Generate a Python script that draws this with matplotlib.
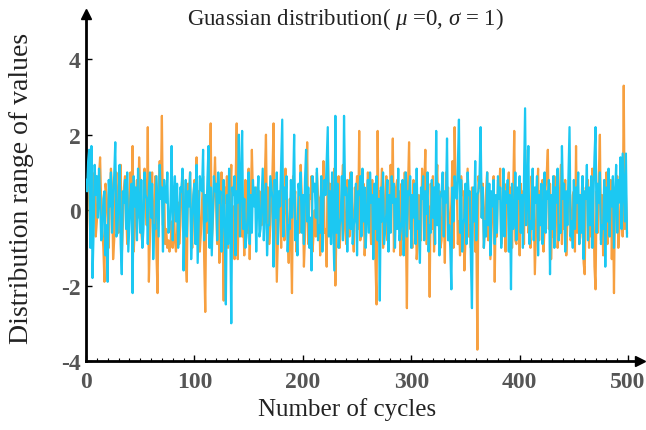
import numpy as np
import matplotlib
matplotlib.use("Agg")
import matplotlib.pyplot as plt
from matplotlib.ticker import MultipleLocator

orange_vals = [
    -1.3, -0.4, 0.6, 1.2, 0.3, -0.9, -0.2, 0.8, 1.0, -0.7,
    -0.3, 0.5, 0.9, 1.4, 0.2, -0.5, -1.0, -1.9, 0.7, 0.4,
    -0.2, -1.0, 0.3, 1.1, 0.6, -1.3, -0.8, 0.4, 1.0, 0.2,
    -0.6, -0.2, 1.2, -1.2, -0.4, 0.6, 0.9, 0.1, -0.9, -0.3,
    0.5, 1.0, 0.2, 1.7, -1.1, -0.5, 0.3, 0.8, -0.2, 1.4,
    0.6, -0.6, -0.9, 0.2, 1.1, 0.4, -0.4, 2.2, -1.9, -0.7,
    0.3, 1.0, -0.8, -0.4, 0.9, -1.2, -2.2, 0.6, 1.3, 0.5,
    2.5, -0.4, 0.8, -0.9, -0.5, -1.0, -0.8, -1.1, -0.9, -0.3,
    -1.0, 0.3, -0.8, -1.1, -0.6, 0.2, -0.9, -0.4, 0.5, 0.9,
    0.4, -0.6, -1.2, -1.9, 0.7, 0.3, 1.0, -0.5, -1.0, 0.3,
    0.8, 0.2, 1.4, -0.7, 0.5, -1.1, -0.6, 0.2, 0.9, -1.3,
    -2.7, 0.4, -0.6, 1.1, 0.5, 2.3, -0.8, -0.3, 0.5, 1.4,
    0.2, -0.9, 0.7, -1.4, -0.3, 1.0, -0.6, -2.4, 0.6, 0.2,
    0.9, -1.0, -0.4, 0.5, 1.2, -0.8, 0.1, -1.3, 0.7, 2.3,
    -1.3, 0.5, 0.4, 1.0, -0.7, -0.2, -1.2, 0.8, 0.0, -0.6,
    1.1, -1.3, 0.3, 1.6, 0.4, 0.5, 0.3, 0.6, 0.4, 0.2,
    0.5, 0.3, -0.4, 0.7, 0.1, 0.9, 2.0, -0.5, 0.6, -0.9,
    -0.4, 0.3, 1.0, 2.3, -0.6, 0.2, -1.9, -0.8, 0.4, 0.5,
    -1.0, 0.7, 0.1, -0.8, 1.1, 0.3, -0.6, -1.4, 0.3, -0.7,
    -2.2, 0.9, 0.2, 0.5, -1.1, -0.8, 0.0, -0.6, 1.2, 0.4,
    0.3, -1.5, -0.7, 0.2, 1.8, -0.9, 0.4, 0.3, 0.9, -1.1,
    -0.6, 0.0, -0.7, 1.0, 0.4, 0.3, -1.2, 0.8, 0.1, 1.3,
    -0.6, -0.5, -1.5, 1.6, 0.3, 0.7, -0.9, -0.2, 0.5, 1.1,
    -2.0, -0.6, 0.2, 0.9, -1.0, -0.4, 0.6, 1.2, 0.3, -0.5,
    -0.9, 0.8, 0.1, -0.7, 1.0, 0.4, -0.3, -1.1, 0.6, 0.2,
    0.9, -0.5, 2.1, -0.8, -0.4, 0.1, 0.7, -1.2, -0.5, 0.3,
    1.0, 0.6, -0.2, -0.9, 0.8, -0.2, 0.4, -1.4, -2.5, 2.1,
    -0.7, 0.5, 0.3, 1.1, -1.0, -0.6, 0.4, 0.9, -0.8, 0.3,
    -0.5, 1.2, 0.2, 1.9, -1.1, -0.4, 0.6, 0.8, -0.3, 0.5,
    -1.2, 0.7, 0.0, -0.8, 1.0, -0.4, -2.6, 0.6, 1.8, -0.5,
    -0.3, -1.0, 0.8, 0.2, 0.5, -1.3, -0.9, 0.4, 0.2, -0.8,
    1.1, 0.3, 0.6, 1.6, -0.9, -0.4, 0.1, -2.3, 0.7, -0.5,
    0.9, -1.1, -0.3, 0.6, 1.2, -0.2, 0.5, -1.0, -0.8, 0.4,
    0.1, -1.4, 1.0, 0.3, 0.6, -0.8, -0.4, 0.2, 1.3, -1.0,
    2.2, 0.5, 0.7, -0.9, -0.3, -1.2, 0.9, 0.4, 0.5, -1.6,
    -0.8, 0.2, 1.1, -0.7, -0.4, -1.0, 0.6, 0.3, 0.2, -1.1,
    -0.5, -3.7, 0.9, 0.6, 1.2, -0.2, 0.7, -1.0, -0.3, 0.5,
    1.0, -0.8, 0.4, -1.3, -0.6, 0.1, 0.9, -1.9, 0.2, -0.7,
    0.8, 0.4, 1.1, -0.9, -0.5, 0.2, 0.7, -1.1, 0.3, 0.6,
    1.0, -0.3, 0.6, -1.0, 0.4, 2.1, -0.8, -0.9, 0.5, 0.2,
    -1.2, 0.7, -0.1, 0.5, -0.9, 1.6, 0.3, 0.8, -0.6, -0.4,
    -1.0, 0.9, 0.2, 0.3, -1.7, -0.6, 0.4, 1.1, -0.8, 0.5,
    -0.3, 0.8, -1.1, -0.4, 0.6, 1.0, 1.6, -0.5, 0.7, -1.3,
    -0.2, -0.7, 0.9, 0.1, 0.5, -1.0, -0.6, 0.3, 1.2, -0.9,
    0.4, -0.5, 0.8, -1.2, -0.3, 0.2, 1.0, -0.8, -0.6, 0.4,
    0.5, -1.1, 1.7, -0.6, 0.2, -0.9, -0.7, 0.3, 0.9, -1.4,
    -1.7, 0.6, 0.4, 0.8, -1.0, 0.3, -0.7, 1.1, 0.2, -1.5,
    -2.1, 0.5, -0.6, 0.9, 2.0, -0.8, 0.4, -1.2, -0.7, 0.3,
    1.0, -0.9, 0.3, -0.5, 0.8, -1.3, 0.2, -2.2, 0.6, 0.4,
    0.9, -1.0, -0.5, 0.2, 1.2, -0.7, 3.3, -0.5, 0.4, -0.6,
]

blue_vals = [
    0.8, 0.5, 1.3, 1.6, -1.0, 1.7, -1.8, -0.6, 1.2, 0.4,
    0.9, -0.2, 1.1, 0.3, -0.8, -0.7, 0.3, 0.5, -1.2, -0.4,
    -1.9, 0.8, 0.1, 1.0, -0.6, 0.3, 0.9, 1.8, -0.7, -0.6,
    0.4, 1.2, -0.9, -1.7, 0.5, 0.2, 0.8, -0.5, 1.0, -1.1,
    -0.4, 0.3, 0.7, -2.2, 0.9, 0.1, 0.6, -0.8, 1.1, 0.2,
    -0.6, 0.8, -1.0, -0.5, 1.0, 0.4, 0.3, -0.9, 0.6, 1.0,
    -0.2, 0.7, -1.3, -0.4, -0.5, 0.9, 0.1, -0.7, 1.2, 0.3,
    0.6, -1.1, 0.8, 0.4, 0.2, 1.0, -0.6, -0.5, 0.2, 1.7,
    -0.8, 0.4, 0.9, -0.3, 0.7, -1.0, -0.3, 0.6, 0.5, 1.1,
    -1.6, -0.2, 0.8, -0.7, 0.5, 0.1, 1.0, -1.3, -0.4, 0.4,
    0.7, -0.9, 1.2, -1.4, -0.3, 0.9, 0.6, 0.5, 1.6, -0.8,
    0.4, -0.3, 0.8, 1.7, -1.0, 0.6, -1.2, -0.2, 0.9, 0.5,
    0.7, -0.8, 1.0, 0.2, 0.5, -1.1, -0.3, 0.8, -0.6, -2.5,
    0.4, -0.9, 1.1, -0.3, -3.0, 0.6, 0.4, 0.9, -1.2, 0.5,
    0.2, 2.0, -0.7, 0.8, 2.1, -0.5, 0.3, -1.0, -0.7, -0.2,
    1.0, -0.9, 0.4, -0.6, 0.8, 0.1, 0.6, -1.1, 0.3, 0.9,
    -0.7, -0.5, 0.3, 1.1, -0.8, 0.2, 0.7, -1.2, -0.4, -0.4,
    0.9, 0.6, 0.3, -1.5, 0.8, -0.2, 1.0, -0.9, 0.5, 0.1,
    1.2, 2.4, -0.7, 0.6, 0.3, 0.9, -1.1, -0.4, -0.5, 0.8,
    -0.2, 0.5, 2.0, -0.8, -0.3, -1.2, 0.7, 0.4, 1.0, -0.6,
    0.4, -0.9, 0.8, 1.6, -0.3, 0.6, -1.0, -0.2, -1.6, 0.9,
    0.5, 0.7, -0.2, 1.1, -0.8, -0.4, -0.6, 0.9, -1.1, 0.3,
    0.8, 0.4, 1.3, 2.2, -0.7, 0.5, -0.9, 1.0, -0.3, -1.6,
    2.5, -0.6, 0.7, -1.0, -0.4, -0.2, 0.9, -0.8, 2.5, 0.4,
    0.6, -1.1, 0.3, 0.8, -0.5, 1.0, -0.9, -0.4, -0.2, 0.7,
    -1.2, 0.5, 0.4, 0.9, -0.7, 1.1, -0.3, 0.6, -1.0, -0.2,
    0.8, -0.6, 1.0, 0.2, 0.4, -1.3, 0.7, -0.5, 0.9, -0.8,
    0.3, -2.4, 0.6, -0.3, 1.0, -0.9, -0.5, -0.1, 0.8, -1.1,
    0.4, -0.6, 0.9, 0.2, 0.7, -1.0, 0.3, -0.5, 1.1, -0.8,
    -0.6, -0.3, 0.8, -1.2, 0.2, 1.0, -0.7, 0.5, 0.4, 0.9,
    -1.0, 0.4, -0.2, 0.7, -0.9, 1.1, -0.5, -0.3, -1.4, 0.6,
    0.3, 0.9, -0.8, 0.5, -0.1, 1.0, -1.1, -0.4, -0.6, 0.8,
    -0.2, 0.6, -0.9, 2.1, -0.4, 0.7, -1.2, 0.3, 0.5, 1.0,
    -0.7, 0.5, 0.2, 1.9, -0.8, -0.4, -1.0, -2.1, 0.6, -0.3,
    0.9, 0.5, 0.3, 1.2, 2.4, -0.6, 0.8, -1.1, -0.4, -0.2,
    0.7, -0.9, 1.0, 0.4, 0.5, -1.3, -2.6, 0.6, -0.3, 1.3,
    -0.8, 0.4, 0.5, 0.9, 2.2, -0.2, 0.6, -1.0, -0.3, -0.7,
    1.0, -0.4, 0.7, -1.2, 0.5, 0.1, 0.8, -0.9, 0.4, -0.6,
    0.9, 0.3, 0.6, -1.0, -0.2, 1.1, -0.7, 0.5, 0.2, 0.8,
    -1.1, 0.4, -2.1, 0.7, -0.5, -0.3, 1.0, -0.8, 0.6, 0.3,
    0.9, -0.6, 0.4, -1.0, 0.8, 2.7, -0.4, 0.5, 1.7, -0.9,
    -0.3, -0.5, 1.1, -0.8, 0.6, 0.2, 0.9, -1.2, 0.4, -0.4,
    0.7, -0.9, -0.2, 1.0, -0.6, 0.5, 0.3, 0.8, -1.7, 0.4,
    -0.5, 0.9, -1.0, 0.6, 0.2, 1.1, -0.8, -0.4, -0.6, 1.7,
    0.3, 0.7, -1.1, 0.5, -0.4, 0.9, 2.2, -0.7, -0.3, -1.0,
    0.8, -0.5, 0.6, 0.2, 1.0, -0.9, 0.4, -0.6, 0.9, -1.3,
    0.5, 0.3, 1.2, -0.8, 0.6, -0.4, 0.9, -1.0, 0.3, 1.4,
    2.2, -0.6, 0.7, 0.2, 1.0, -0.9, -0.4, -0.5, 0.8, -1.5,
    0.6, -0.3, 1.1, -0.7, 0.5, 0.1, 0.9, -1.0, 0.4, 1.2,
    -0.6, 0.8, 0.2, 1.4, -0.5, 1.5, 0.6, -0.3, 1.5, -0.7,
]

cycles = np.arange(len(orange_vals))
x_ticks = [0, 100, 200, 300, 400, 500]
y_ticks = [-4, -2, 0, 2, 4]

serif = ["Liberation Serif", "DejaVu Serif"]
plt.rcParams["font.family"] = serif
plt.rcParams["axes.unicode_minus"] = False
plt.rcParams["mathtext.fontset"] = "custom"
plt.rcParams["mathtext.rm"] = "Liberation Serif"
plt.rcParams["mathtext.it"] = "Liberation Serif:italic"

fig = plt.figure(figsize=(6.46, 4.31), dpi=100)
ax = fig.add_axes([86 / 646, (431 - 362) / 431, (640 - 86) / 646, (362 - 15) / 431])

ax.plot(cycles, orange_vals, color="#F7A040", lw=1.6, zorder=2)
ax.plot(cycles, blue_vals, color="#1CC8F2", lw=1.6, zorder=3)

ax.set_xlim(0, 511)
ax.set_ylim(-4, 5.2)
ax.spines["top"].set_visible(False)
ax.spines["right"].set_visible(False)
for s in ("left", "bottom"):
    ax.spines[s].set_linewidth(2)
    ax.spines[s].set_color("black")

# arrowheads
ax.plot(1, 0, ">k", transform=ax.transAxes, clip_on=False, markersize=7)
ax.plot(0, 1, "^k", transform=ax.transAxes, clip_on=False, markersize=7)

ax.set_xticks(x_ticks)
ax.set_yticks(y_ticks)
ax.xaxis.set_minor_locator(MultipleLocator(10))
ax.tick_params(axis="both", which="major", direction="in", length=4, width=1,
               labelsize=17, labelcolor="#555555")
ax.tick_params(axis="x", which="major", pad=7)
ax.tick_params(axis="y", which="major", pad=4)
ax.tick_params(axis="x", which="minor", direction="in", length=2, width=0.8)
for lab in ax.get_xticklabels() + ax.get_yticklabels():
    lab.set_fontweight("bold")

ax.set_xlabel("Number of cycles", fontsize=18, color="#222222", labelpad=7)
ax.xaxis.set_label_coords((347 - 86) / 554, -0.105)
ax.set_ylabel("Distribution range of values", fontsize=20, color="#222222", labelpad=19)

fig.text(0.535, 0.957, r"Guassian distribution( $\mathit{\mu}$ =$\mathit{0}$, $\mathit{\sigma}$ = $\mathit{1}$)",
         ha="center", va="center", fontsize=16.5, color="#222222")

fig.savefig("out.png", dpi=100)
